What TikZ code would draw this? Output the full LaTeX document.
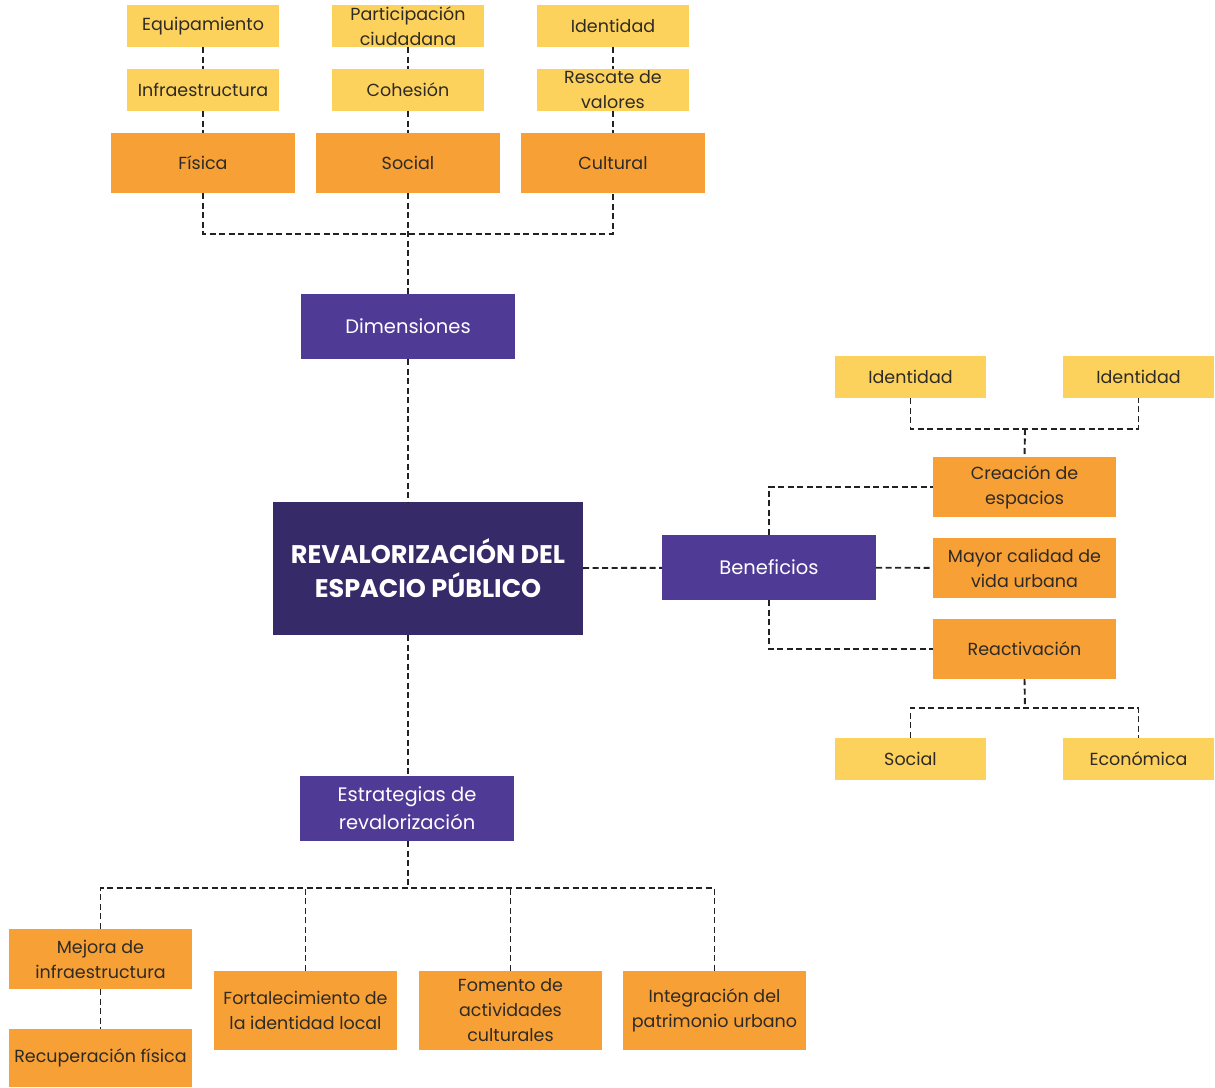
\documentclass[tikz,border=0pt]{standalone}
\usepackage{fontspec}
\setmainfont{Poppins}
\begin{document}
\begin{tikzpicture}[x=1pt,y=-1pt,
  base/.style={rectangle, inner sep=0pt, align=center, text=txtdark,
    font=\fontsize{17.5}{25}\selectfont},
  ybox/.style={base, fill=yel, minimum width=152pt, minimum height=42pt},
  obox/.style={base, fill=org, minimum width=184pt, minimum height=60pt},
  pbox/.style={base, fill=pur, text=white, minimum width=214pt, minimum height=65pt,
    font=\fontsize{19.5}{28}\selectfont},
  conn/.style={draw=lin, line width=1.9pt, dash pattern=on 6pt off 3.5pt}
]
\definecolor{yel}{HTML}{FDD25C}
\definecolor{org}{HTML}{F7A035}
\definecolor{pur}{HTML}{4F3A96}
\definecolor{dpur}{HTML}{372A69}
\definecolor{txtdark}{HTML}{2E2A26}
\definecolor{lin}{HTML}{222222}
\useasboundingbox (0,0) rectangle (1215,1087);

% top
\node[ybox] (equip) at (203,26) {Equipamiento};
\node[ybox] (infra) at (203,90) {Infraestructura};
\node[ybox] (partic) at (408,26) {Participación\\ciudadana};
\node[ybox] (cohes) at (408,90) {Cohesión};
\node[ybox] (ident) at (613,26) {Identidad};
\node[ybox] (resc) at (613,90) {Rescate de\\valores};
\node[obox] (fisica) at (203,163) {Física};
\node[obox] (social) at (408,163) {Social};
\node[obox] (cult) at (613,163) {Cultural};
\node[pbox] (dim) at (408,326.5) {Dimensiones};

% main
\node[base, fill=dpur, text=white, minimum width=310pt, minimum height=133pt,
  font=\fontsize{25.5}{34}\selectfont\bfseries] (main) at (428,568.5)
  {REVALORIZACIÓN DEL\\ESPACIO PÚBLICO};

% right
\node[pbox] (benef) at (769,567.5) {Beneficios};
\node[obox, minimum width=183pt] (crea) at (1024.5,487) {Creación de\\espacios};
\node[obox, minimum width=183pt] (mayor) at (1024.5,568) {Mayor calidad de\\vida urbana};
\node[obox, minimum width=183pt] (react) at (1024.5,649) {Reactivación};
\node[ybox, minimum width=151pt] (idr1) at (910.5,377) {Identidad};
\node[ybox, minimum width=151pt] (idr2) at (1138.5,377) {Identidad};
\node[ybox, minimum width=151pt] (soc2) at (910.5,759) {Social};
\node[ybox, minimum width=151pt] (econ) at (1138.5,759) {Económica};

% bottom
\node[pbox] (estr) at (407,808.5) {Estrategias de\\revalorización};
\node[obox, minimum width=183pt] (mejora) at (100.5,959) {Mejora de\\infraestructura};
\node[obox, minimum width=183pt, minimum height=58pt] (recup) at (100.5,1058) {Recuperación física};
\node[obox, minimum width=183pt, minimum height=79pt] (fort) at (305.5,1010.5) {Fortalecimiento de\\la identidad local};
\node[obox, minimum width=183pt, minimum height=79pt] (foment) at (510.5,1010.5) {Fomento de\\actividades\\culturales};
\node[obox, minimum width=183pt, minimum height=79pt] (integ) at (714.5,1010.5) {Integración del\\patrimonio urbano};

% junction coordinates
\coordinate (jtop) at (408,234);
\coordinate (jbot) at (408,888);
\coordinate (jid) at (1025,429);
\coordinate (jre) at (1025,708);

% connectors top
\draw[conn] (equip) -- (infra);
\draw[conn] (infra) -- (fisica);
\draw[conn] (partic) -- (cohes);
\draw[conn] (cohes) -- (social);
\draw[conn] (ident) -- (resc);
\draw[conn] (resc) -- (cult);
\draw[conn] (fisica.south) |- (jtop) -| (cult.south);
\draw[conn] (social.south) -- (dim.north);
\draw[conn] (dim.south) -- (dim.south |- main.north);

% right connectors
\draw[conn] (main) -- (benef);
\draw[conn] (benef.north) |- (crea.west);
\draw[conn] (benef) -- (mayor);
\draw[conn] (benef.south) |- (react.west);
\draw[conn] (idr1.south) |- (jid) -| (idr2.south);
\draw[conn] (jid) -- (crea.north);
\draw[conn] (react.south) -- (jre);
\draw[conn] (soc2.north) |- (jre) -| (econ.north);

% bottom connectors
\draw[conn] (dim.south |- main.south) -- (dim.south |- estr.north);
\draw[conn] (dim.south |- estr.south) -- (jbot);
\draw[conn] (mejora.north) |- (jbot) -| (integ.north);
\draw[conn] (fort.north) -- (fort.north |- jbot);
\draw[conn] (foment.north) -- (foment.north |- jbot);
\draw[conn] (mejora) -- (recup);
\end{tikzpicture}
\end{document}
